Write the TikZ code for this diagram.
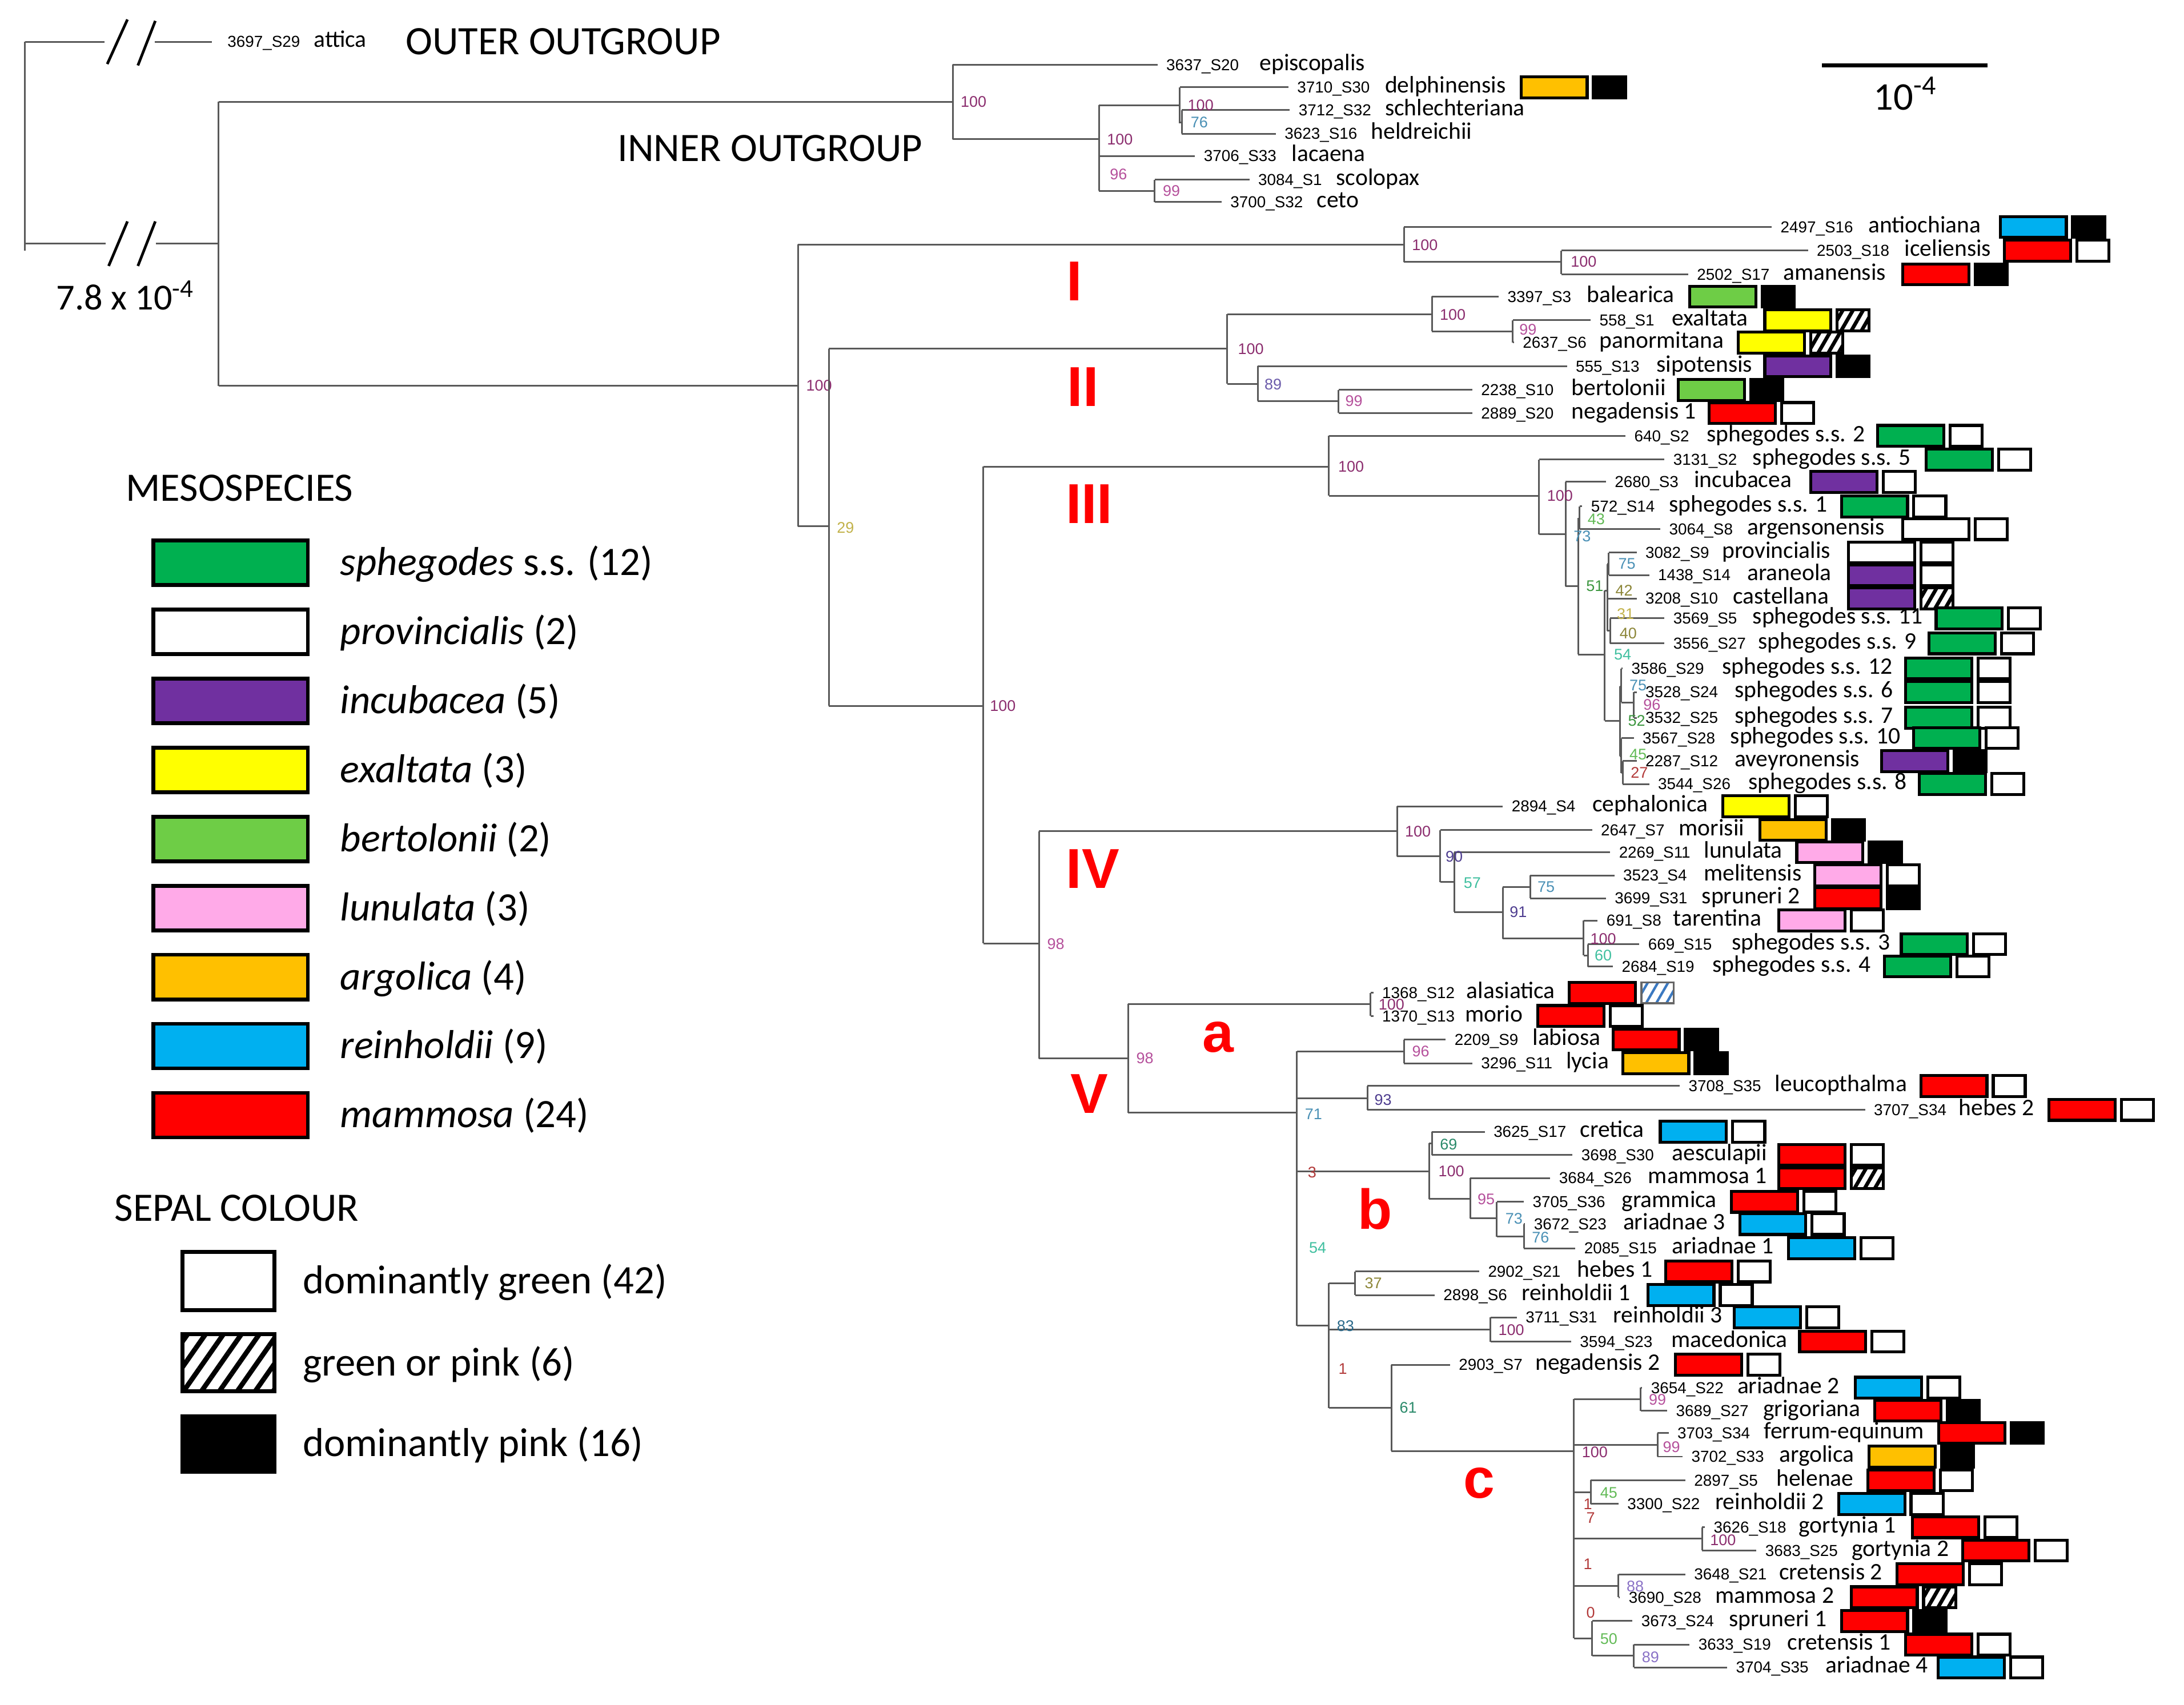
\documentclass[tikz,border=0pt]{standalone}
\usepackage{fontspec}
\setmainfont{Carlito}
\newfontfamily\idfont{Liberation Sans}
\usetikzlibrary{patterns.meta}

% mesospecies colours
\definecolor{spheg}{HTML}{00B050}
\definecolor{incu}{HTML}{7030A0}
\definecolor{exal}{HTML}{FFFF00}
\definecolor{bert}{RGB}{110,205,70}
\definecolor{lunu}{RGB}{255,170,232}
\definecolor{argo}{HTML}{FFC000}
\definecolor{rein}{HTML}{00B0F0}
\definecolor{mamm}{HTML}{FF0000}
\definecolor{blueh}{HTML}{3A78C0}
% bootstrap colours
\definecolor{bA}{HTML}{8B2D6E}
\definecolor{bB}{HTML}{B5509B}
\definecolor{bC}{HTML}{4E3D8F}
\definecolor{bD}{HTML}{6B5BAA}
\definecolor{bE}{HTML}{8A72C6}
\definecolor{bF}{HTML}{2C6A8A}
\definecolor{bG}{HTML}{4A90B5}
\definecolor{bH}{HTML}{2A8A6A}
\definecolor{bI}{HTML}{3FBF9F}
\definecolor{bJ}{HTML}{3C963F}
\definecolor{bK}{HTML}{62BA56}
\definecolor{bL}{HTML}{8C8638}
\definecolor{bM}{HTML}{C2B24A}
\definecolor{bN}{HTML}{B23A3A}

\newcounter{nn}
\tikzset{
  br/.style={draw=black!65, line width=0.7pt},
  slash/.style={draw=black, line width=1.1pt},
  idn/.style={anchor=base west, inner sep=0pt, font=\idfont\fontsize{6.5}{7}\selectfont},
  nmn/.style={anchor=base west, inner sep=0pt, font=\fontsize{9.7}{11}\selectfont},
  bsn/.style={inner sep=0pt, font=\idfont\fontsize{6.3}{7}\selectfont},
  clab/.style={inner sep=0pt, text=mamm, font=\idfont\bfseries\fontsize{23}{26}\selectfont},
  leg/.style={anchor=base west, inner sep=0pt, font=\fontsize{16.5}{19}\selectfont},
  mbox/.style={draw=black, line width=1.2pt},
  lbox/.style={draw=black, line width=1.6pt},
  sepwhite/.style={fill=white},
  sepblack/.style={fill=black},
  sephatch/.style={fill=white, pattern={Lines[angle=60,distance=3.6pt,line width=1.5pt]}, pattern color=black},
  sepbhatch/.style={fill=white, pattern={Lines[angle=60,distance=3.6pt,line width=1pt]}, pattern color=blueh, draw=black!60, line width=0.8pt},
}

% tip without boxes: y, branch start, branch end, id, name x, name
\newcommand{\leaf}[6]{%
  \draw[br] (#2,#1) -- (#3,#1);
  \stepcounter{nn}%
  \node[idn] (id\thenn) at (#3+6,#1+4) {#4};
  \node[nmn] (nm\thenn) at (#5,#1+4) {#6};
}
% tip with boxes: ... box x, mesospecies colour, sepal style
\newcommand{\tip}[9]{%
  \leaf{#1}{#2}{#3}{#4}{#5}{#6}%
  \filldraw[mbox,fill=#8] (#7,#1-7.5) rectangle ++(47.5,15);
  \filldraw[mbox,sep#9] (#7+52,#1-7.5) rectangle ++(23,15);
}
% bootstrap value
\newcommand{\bs}[4]{\stepcounter{nn}\node[bsn,text=#4] (bs\thenn) at (#1,#2) {#3};}

\begin{document}
\begin{tikzpicture}[x=0.02cm,y=-0.02cm]
\useasboundingbox (0,0) rectangle (1568,1224);

% root and broken branches
\draw[br] (18,30) -- (18,180);
\draw[br] (18,30) -- (75,30) (111,30) -- (152,30);
\draw[br] (18,175) -- (76,175) (112,175) -- (157,175);
\draw[slash] (77,46) -- (91.5,14) (99,47) -- (111.5,15);
\draw[slash] (78,191) -- (91.5,159) (99,191) -- (111.5,159);
\node[idn] (att) at (163,34) {3697\_S29};
\node[nmn] (attn) at (225,34) {attica};
\node[leg] (outer) at (291,39) {OUTER OUTGROUP};
\node[font=\fontsize{15}{18}\selectfont] (brk) at (90,212) {7.8 x 10\textsuperscript{-4}};

\draw[br] (157,73) -- (157,277);
\draw[br] (157,73) -- (684,73);
\draw[br] (157,277) -- (573,277);

% inner outgroup
\node[leg] (inner) at (443,116) {INNER OUTGROUP};
\draw[br] (684,46.5) -- (684,100);
\leaf{46.5}{684}{831}{3637\_S20}{904}{episcopalis}
\draw[br] (684,100) -- (789,100);
\draw[br] (789,75.5) -- (789,137);
\draw[br] (789,75.5) -- (847,75.5);
\draw[br] (847,62.7) -- (847,88) -- (848.5,88);
\draw[br] (848.5,79) -- (848.5,96);
\tip{62.7}{847}{925}{3710\_S30}{994}{delphinensis}{1092}{argo}{black}
\leaf{79}{848.5}{926}{3712\_S32}{994}{schlechteriana}
\leaf{96}{848.5}{916}{3623\_S16}{984}{heldreichii}
\leaf{112}{789}{858}{3706\_S33}{927}{lacaena}
\draw[br] (789,137) -- (829,137);
\draw[br] (829,129) -- (829,145);
\leaf{129}{829}{897}{3084\_S1}{959}{scolopax}
\leaf{145}{829}{877}{3700\_S32}{945}{ceto}
\bs{699}{73}{100}{bA}
\bs{804}{100}{100}{bA}
\bs{862}{75.5}{100}{bA}
\bs{861}{88}{76}{bG}
\bs{803}{125}{96}{bB}
\bs{841}{137}{99}{bB}

% ingroup
\draw[br] (573,175.6) -- (573,378);
\bs{588}{277}{100}{bA}
% clade I
\draw[br] (573,175.6) -- (1008,175.6);
\draw[br] (1008,163) -- (1008,188);
\tip{163}{1008}{1272}{2497\_S16}{1341}{antiochiana}{1436}{rein}{black}
\draw[br] (1008,188) -- (1121,188);
\draw[br] (1121,180) -- (1121,197);
\tip{180}{1121}{1298}{2503\_S18}{1367}{iceliensis}{1439}{mamm}{white}
\tip{197}{1121}{1212}{2502\_S17}{1280}{amanensis}{1366}{mamm}{black}
\bs{1023}{176}{100}{bA}
\bs{1137}{188}{100}{bA}

\draw[br] (573,378) -- (595,378);
\draw[br] (595,250.5) -- (595,507);
\bs{607}{379}{29}{bM}

% clade II
\draw[br] (595,250.5) -- (881,250.5);
\draw[br] (881,225.6) -- (881,275.6);
\draw[br] (881,225.6) -- (1028,225.6);
\draw[br] (1028,213) -- (1028,238);
\tip{213}{1028}{1076}{3397\_S3}{1139}{balearica}{1213}{bert}{black}
\draw[br] (1028,238) -- (1086,238);
\draw[br] (1086,230) -- (1086,246);
\tip{230}{1086}{1142}{558\_S1}{1200}{exaltata}{1267}{exal}{hatch}
\tip{246}{1086}{1087}{2637\_S6}{1148}{panormitana}{1248}{exal}{hatch}
\draw[br] (881,275.6) -- (903,275.6);
\draw[br] (903,263) -- (903,288);
\tip{263}{903}{1125}{555\_S13}{1189}{sipotensis}{1267}{incu}{black}
\draw[br] (903,288) -- (961,288);
\draw[br] (961,280) -- (961,296.6);
\tip{280}{961}{1057}{2238\_S10}{1128}{bertolonii}{1205}{bert}{black}
\tip{296.6}{961}{1057}{2889\_S20}{1128}{negadensis 1}{1227}{mamm}{white}
\bs{898}{250.5}{100}{bA}
\bs{1043}{226}{100}{bA}
\bs{1097}{236.5}{99}{bB}
\bs{914}{276}{89}{bD}
\bs{972}{288}{99}{bB}

\draw[br] (595,507) -- (706,507);
\draw[br] (706,335) -- (706,677.5);
\bs{720}{507}{100}{bA}

% clade III
\draw[br] (706,335) -- (954,335);
\draw[br] (954,313) -- (954,356);
\tip{313}{954}{1167}{640\_S2}{1225}{sphegodes s.s. 2}{1348}{spheg}{white}
\draw[br] (954,356) -- (1105,356);
\draw[br] (1105,330) -- (1105,383.6);
\tip{330}{1105}{1195}{3131\_S2}{1258}{sphegodes s.s. 5}{1383}{spheg}{white}
\draw[br] (1105,383.6) -- (1124,383.6);
\draw[br] (1124,346) -- (1124,421);
\tip{346}{1124}{1153}{2680\_S3}{1216}{incubacea}{1300}{incu}{white}
\draw[br] (1134,363.7) -- (1134,380);
\tip{363.7}{1134}{1136}{572\_S14}{1198}{sphegodes s.s. 1}{1322}{spheg}{white}
\tip{380}{1134}{1192}{3064\_S8}{1254}{argensonensis}{1366}{white}{white}
\draw[br] (1124,421) -- (1133,421);
\draw[br] (1133,372) -- (1133,470);
\draw[br] (1133,470) -- (1152,470);
\draw[br] (1152,424) -- (1152,517.5);
\draw[br] (1152,424) -- (1154,424);
\draw[br] (1154,405) -- (1154,453);
\draw[br] (1154,405) -- (1155,405);
\draw[br] (1155,396.8) -- (1155,413);
\tip{396.8}{1155}{1175}{3082\_S9}{1236}{provincialis}{1327}{white}{white}
\tip{413}{1155}{1184}{1438\_S14}{1254}{araneola}{1327}{incu}{white}
\tip{429.8}{1154}{1175}{3208\_S10}{1244}{castellana}{1327}{incu}{hatch}
\draw[br] (1154,453) -- (1156,453);
\draw[br] (1156,444) -- (1156,462);
\tip{444}{1156}{1195}{3569\_S5}{1258}{sphegodes s.s. 11}{1390}{spheg}{white}
\tip{462}{1156}{1195}{3556\_S27}{1262}{sphegodes s.s. 9}{1385}{spheg}{white}
\draw[br] (1152,517.5) -- (1163,517.5);
\draw[br] (1163,493) -- (1163,543);
\draw[br] (1163,493) -- (1164,493);
\draw[br] (1164,480) -- (1164,504.5);
\tip{480}{1164}{1165}{3586\_S29}{1236}{sphegodes s.s. 12}{1368}{spheg}{white}
\draw[br] (1164,504.5) -- (1173,504.5);
\draw[br] (1173,497) -- (1173,515.5);
\tip{497}{1173}{1175}{3528\_S24}{1245}{sphegodes s.s. 6}{1368}{spheg}{white}
\tip{515.5}{1173}{1175}{3532\_S25}{1245}{sphegodes s.s. 7}{1368}{spheg}{white}
\draw[br] (1163,543) -- (1164,543);
\draw[br] (1164,530) -- (1164,555);
\draw[br] (1164,555) -- (1165,555);
\draw[br] (1165,546.5) -- (1165,563);
\tip{530}{1164}{1173}{3567\_S28}{1242}{sphegodes s.s. 10}{1374}{spheg}{white}
\tip{546.5}{1165}{1175}{2287\_S12}{1245}{aveyronensis}{1351}{incu}{black}
\tip{563}{1165}{1184}{3544\_S26}{1255}{sphegodes s.s. 8}{1378}{spheg}{white}
\bs{970}{335}{100}{bA}
\bs{1120}{356}{100}{bA}
\bs{1136}{385}{73}{bG}
\bs{1146}{373}{43}{bK}
\bs{1145}{421}{51}{bJ}
\bs{1168}{405}{75}{bG}
\bs{1166}{424}{42}{bL}
\bs{1167}{441}{31}{bM}
\bs{1169}{455}{40}{bL}
\bs{1165}{470}{54}{bI}
\bs{1176}{492}{75}{bG}
\bs{1186}{506}{96}{bB}
\bs{1175}{517.5}{52}{bJ}
\bs{1176}{542}{45}{bK}
\bs{1177}{555}{27}{bN}

\draw[br] (706,677.5) -- (746,677.5);
\draw[br] (746,597) -- (746,760);
\bs{758}{678}{98}{bB}

% clade IV
\draw[br] (746,597) -- (1003,597);
\draw[br] (1003,579) -- (1003,615);
\tip{579}{1003}{1079}{2894\_S4}{1143}{cephalonica}{1237}{exal}{white}
\draw[br] (1003,615) -- (1034,615);
\draw[br] (1034,596) -- (1034,633.5);
\tip{596}{1034}{1143}{2647\_S7}{1205}{morisii}{1263.5}{argo}{black}
\draw[br] (1034,633.5) -- (1044,633.5);
\draw[br] (1044,612) -- (1044,655);
\tip{612}{1044}{1156}{2269\_S11}{1223}{lunulata}{1290}{lunu}{black}
\draw[br] (1044,655) -- (1079,655);
\draw[br] (1079,637) -- (1079,674);
\draw[br] (1079,637) -- (1098.6,637);
\draw[br] (1098.6,628.6) -- (1098.6,645);
\tip{628.6}{1098.6}{1159}{3523\_S4}{1223}{melitensis}{1303}{lunu}{white}
\tip{645}{1098.6}{1153}{3699\_S31}{1221.5}{spruneri 2}{1303}{mamm}{black}
\draw[br] (1079,674) -- (1137,674);
\draw[br] (1137,661) -- (1137,686);
\tip{661}{1137}{1147}{691\_S8}{1201}{tarentina}{1277}{lunu}{white}
\draw[br] (1137,686) -- (1140,686);
\draw[br] (1140,678) -- (1140,694);
\tip{678}{1140}{1177}{669\_S15}{1243}{sphegodes s.s. 3}{1365}{spheg}{white}
\tip{694}{1140}{1158}{2684\_S19}{1229}{sphegodes s.s. 4}{1353}{spheg}{white}
\bs{1018}{597}{100}{bA}
\bs{1044}{615}{90}{bC}
\bs{1057}{634}{57}{bI}
\bs{1090}{655}{91}{bC}
\bs{1110}{637}{75}{bG}
\bs{1151}{674}{100}{bA}
\bs{1151}{686}{60}{bI}

% clade V
\draw[br] (746,760) -- (810,760);
\draw[br] (810,721) -- (810,799);
\bs{822}{760}{98}{bB}
\draw[br] (810,721) -- (984,721);
\draw[br] (984,713) -- (984,729.6);
\tip{713}{984}{986}{1368\_S12}{1052.6}{alasiatica}{1126.5}{mamm}{bhatch}
\tip{729.6}{984}{986}{1370\_S13}{1051.5}{morio}{1104}{mamm}{white}
\bs{999}{721.5}{100}{bA}
\draw[br] (810,799) -- (931,799);
\draw[br] (931,755) -- (931,952);
\draw[br] (931,755) -- (1008,755);
\draw[br] (1008,746.5) -- (1008,763.5);
\tip{746.5}{1008}{1038}{2209\_S9}{1100}{labiosa}{1158}{mamm}{black}
\tip{763.5}{1008}{1057}{3296\_S11}{1124}{lycia}{1165}{argo}{black}
\bs{1020}{755}{96}{bB}
\bs{943}{800}{71}{bG}
\draw[br] (931,788.7) -- (981.8,788.7);
\draw[br] (981.8,779.8) -- (981.8,797);
\tip{779.8}{981.8}{1206}{3708\_S35}{1274}{leucopthalma}{1379}{mamm}{white}
\tip{797}{981.8}{1339}{3707\_S34}{1406}{hebes 2}{1471}{mamm}{white}
\bs{993}{790}{93}{bC}

% subclade b
\draw[br] (931,841) -- (1026,841);
\draw[br] (1026,821) -- (1026,861);
\draw[br] (1026,821) -- (1028,821);
\draw[br] (1028,812.7) -- (1028,829.4);
\tip{812.7}{1028}{1066}{3625\_S17}{1134}{cretica}{1192}{rein}{white}
\tip{829.4}{1028}{1129}{3698\_S30}{1200}{aesculapii}{1277}{mamm}{white}
\draw[br] (1026,861) -- (1055.5,861);
\draw[br] (1055.5,846) -- (1055.5,875);
\tip{846}{1055.5}{1113}{3684\_S26}{1183}{mammosa 1}{1277}{mamm}{hatch}
\draw[br] (1055.5,875) -- (1074.7,875);
\draw[br] (1074.7,863) -- (1074.7,888);
\tip{863}{1074.7}{1094}{3705\_S36}{1164}{grammica}{1243}{mamm}{white}
\draw[br] (1074.7,888) -- (1094,888);
\draw[br] (1094,879) -- (1094,896.4);
\tip{879}{1094}{1095}{3672\_S23}{1165}{ariadnae 3}{1249}{rein}{white}
\tip{896.4}{1094}{1131}{2085\_S15}{1200}{ariadnae 1}{1284}{rein}{white}
\bs{942}{842}{3}{bN}
\bs{1042}{841}{100}{bA}
\bs{1040}{822}{69}{bH}
\bs{1067}{861}{95}{bB}
\bs{1087}{875}{73}{bG}
\bs{1106}{888.6}{76}{bG}
\bs{946}{896}{54}{bI}

\draw[br] (931,952) -- (954,952);
\draw[br] (954,921.5) -- (954,1011);
\draw[br] (954,921.5) -- (973,921.5);
\draw[br] (973,913) -- (973,930);
\tip{913}{973}{1062}{2902\_S21}{1132}{hebes 1}{1196}{mamm}{white}
\tip{930}{973}{1030}{2898\_S6}{1092}{reinholdii 1}{1183}{rein}{white}
\draw[br] (954,954.7) -- (1070,954.7);
\draw[br] (1070,946) -- (1070,963.4);
\tip{946}{1070}{1089}{3711\_S31}{1158}{reinholdii 3}{1245}{rein}{white}
\tip{963.4}{1070}{1128}{3594\_S23}{1199.5}{macedonica}{1292}{mamm}{white}
\draw[br] (954,1011) -- (999,1011);
\draw[br] (999,980) -- (999,1042);
\tip{980}{999}{1041}{2903\_S7}{1102}{negadensis 2}{1203}{mamm}{white}
\bs{986}{921.5}{37}{bL}
\bs{966}{952}{83}{bF}
\bs{1085}{955}{100}{bA}
\bs{964}{983}{1}{bN}
\bs{1011}{1011}{61}{bH}

% subclade c
\draw[br] (999,1042) -- (1130,1042);
\draw[br] (1130,1004.7) -- (1130,1176.5);
\draw[br] (1130,1004.7) -- (1178,1004.7);
\draw[br] (1178,996.5) -- (1178,1013);
\tip{996.5}{1178}{1179}{3654\_S22}{1247}{ariadnae 2}{1332}{rein}{white}
\tip{1013}{1178}{1197}{3689\_S27}{1265.5}{grigoriana}{1346}{mamm}{black}
\draw[br] (1130,1037.7) -- (1190,1037.7);
\draw[br] (1190,1029) -- (1190,1046);
\tip{1029}{1190}{1198}{3703\_S34}{1266}{ferrum-equinum}{1392}{mamm}{black}
\tip{1046}{1190}{1208}{3702\_S33}{1277}{argolica}{1342}{argo}{black}
\draw[br] (1130,1071.6) -- (1142,1071.6);
\draw[br] (1142,1063) -- (1142,1080);
\tip{1063}{1142}{1210}{2897\_S5}{1275}{helenae}{1341}{mamm}{white}
\tip{1080}{1142}{1162}{3300\_S22}{1231}{reinholdii 2}{1320}{rein}{white}
\draw[br] (1130,1105) -- (1222,1105);
\draw[br] (1222,1096.7) -- (1222,1113.4);
\tip{1096.7}{1222}{1224}{3626\_S18}{1291}{gortynia 1}{1373}{mamm}{white}
\tip{1113.4}{1222}{1261}{3683\_S25}{1329}{gortynia 2}{1409}{mamm}{white}
\draw[br] (1130,1138.8) -- (1162,1138.8);
\draw[br] (1162,1130.5) -- (1162,1147);
\tip{1130.5}{1162}{1210}{3648\_S21}{1277}{cretensis 2}{1362}{mamm}{white}
\tip{1147}{1162}{1163}{3690\_S28}{1231}{mammosa 2}{1329}{mamm}{hatch}
\draw[br] (1130,1176.5) -- (1143,1176.5);
\draw[br] (1143,1164) -- (1143,1189);
\tip{1164}{1143}{1172}{3673\_S24}{1241}{spruneri 1}{1322}{mamm}{black}
\draw[br] (1143,1189) -- (1173,1189);
\draw[br] (1173,1181) -- (1173,1197.4);
\tip{1181}{1173}{1213}{3633\_S19}{1283}{cretensis 1}{1368}{mamm}{white}
\tip{1197.4}{1173}{1240}{3704\_S35}{1310.5}{ariadnae 4}{1391.6}{rein}{white}
\bs{1145}{1043}{100}{bA}
\bs{1190}{1005}{99}{bB}
\bs{1200}{1039}{99}{bB}
\bs{1155}{1072}{45}{bK}
\bs{1140}{1080}{1}{bN}
\bs{1142}{1090}{7}{bN}
\bs{1237}{1106}{100}{bA}
\bs{1140}{1123}{1}{bN}
\bs{1174}{1139}{88}{bE}
\bs{1142}{1158}{0}{bN}
\bs{1155}{1177}{50}{bK}
\bs{1185}{1190}{89}{bE}

% clade letters
\node[clab] (cI) at (771.5,202) {I};
\node[clab] (cII) at (777.5,278) {II};
\node[clab] (cIII) at (782,362) {III};
\node[clab] (cIV) at (784.5,624) {IV};
\node[clab] (cV) at (782,785.5) {V};
\node[clab] (ca) at (874.5,745) {a};
\node[clab] (cb) at (987,868) {b};
\node[clab] (cc) at (1062,1065) {c};

% scale bar
\draw[line width=1.6pt] (1308,47) -- (1427,47);
\node[font=\fontsize{16}{19}\selectfont] (sbar) at (1368,67) {10\textsuperscript{-4}};

% legend
\node[leg] (mes) at (90,360) {MESOSPECIES};
\foreach \c/\t [count=\i from 0] in {spheg/{\textit{sphegodes} s.s. (12)}, white/{\textit{provincialis} (2)},
    incu/{\textit{incubacea} (5)}, exal/{\textit{exaltata} (3)}, bert/{\textit{bertolonii} (2)},
    lunu/{\textit{lunulata} (3)}, argo/{\textit{argolica} (4)}, rein/{\textit{reinholdii} (9)},
    mamm/{\textit{mammosa} (24)}}{
  \filldraw[lbox,fill=\c] (110,404+49.6*\i-16) rectangle ++(111,32);
  \node[leg] (leg\i) at (244,404+49.6*\i+9) {\t};
}
\node[leg] (sep) at (82,877) {SEPAL COLOUR};
\filldraw[lbox,fill=white] (131,899) rectangle (197,941);
\node[leg] (sepg) at (217,929) {dominantly green (42)};
\filldraw[lbox,fill=white,pattern={Lines[angle=55,distance=6pt,line width=2pt]},pattern color=black] (131,958) rectangle (197,999);
\node[leg] (sepgp) at (217,988) {green or pink (6)};
\filldraw[lbox,fill=black] (131,1017) rectangle (197,1057);
\node[leg] (sepp) at (217,1046) {dominantly pink (16)};
\end{tikzpicture}
\end{document}
